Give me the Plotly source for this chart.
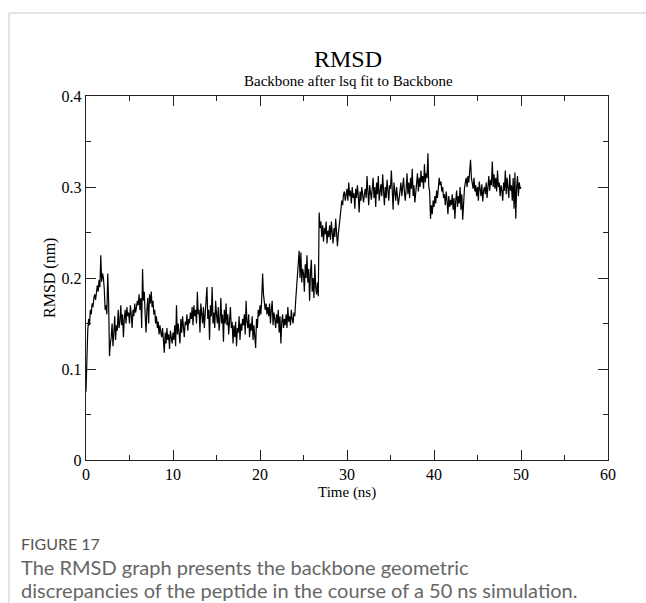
import plotly.graph_objects as go

# ---- data (RMSD in nm, one row per ns, 0.1 ns steps) ----
rmsd_rows = [
    [0.075, 0.120, 0.142, 0.155, 0.148, 0.165, 0.160, 0.172, 0.168, 0.178],  # 0-1
    [0.182, 0.176, 0.188, 0.192, 0.185, 0.198, 0.190, 0.225, 0.196, 0.205],  # 1-2
    [0.200, 0.188, 0.165, 0.170, 0.160, 0.205, 0.175, 0.114, 0.128, 0.135],  # 2-3
    [0.150, 0.125, 0.140, 0.158, 0.132, 0.148, 0.142, 0.165, 0.145, 0.152],  # 3-4
    [0.170, 0.148, 0.160, 0.135, 0.155, 0.165, 0.150, 0.168, 0.158, 0.162],  # 4-5
    [0.150, 0.170, 0.160, 0.145, 0.165, 0.158, 0.172, 0.162, 0.168, 0.175],  # 5-6
    [0.170, 0.182, 0.165, 0.178, 0.145, 0.210, 0.175, 0.185, 0.160, 0.140],  # 6-7
    [0.165, 0.178, 0.150, 0.182, 0.172, 0.185, 0.168, 0.175, 0.160, 0.165],  # 7-8
    [0.150, 0.158, 0.145, 0.152, 0.138, 0.148, 0.140, 0.135, 0.145, 0.130],  # 8-9
    [0.118, 0.140, 0.128, 0.145, 0.132, 0.138, 0.122, 0.142, 0.135, 0.128],  # 9-10
    [0.140, 0.132, 0.148, 0.125, 0.170, 0.138, 0.150, 0.142, 0.128, 0.155],  # 10-11
    [0.140, 0.158, 0.145, 0.135, 0.152, 0.148, 0.160, 0.142, 0.155, 0.150],  # 11-12
    [0.162, 0.155, 0.168, 0.148, 0.170, 0.158, 0.165, 0.150, 0.185, 0.160],  # 12-13
    [0.165, 0.140, 0.172, 0.158, 0.150, 0.168, 0.145, 0.160, 0.175, 0.190],  # 13-14
    [0.155, 0.165, 0.132, 0.170, 0.158, 0.190, 0.150, 0.162, 0.145, 0.175],  # 14-15
    [0.160, 0.150, 0.168, 0.142, 0.155, 0.178, 0.150, 0.160, 0.130, 0.165],  # 15-16
    [0.150, 0.172, 0.148, 0.160, 0.138, 0.155, 0.168, 0.145, 0.152, 0.128],  # 16-17
    [0.148, 0.135, 0.152, 0.125, 0.145, 0.140, 0.158, 0.132, 0.150, 0.142],  # 17-18
    [0.155, 0.148, 0.160, 0.138, 0.175, 0.152, 0.145, 0.160, 0.135, 0.150],  # 18-19
    [0.142, 0.158, 0.132, 0.148, 0.138, 0.123, 0.155, 0.145, 0.165, 0.158],  # 19-20
    [0.170, 0.160, 0.178, 0.205, 0.182, 0.175, 0.165, 0.172, 0.160, 0.168],  # 20-21
    [0.158, 0.172, 0.150, 0.165, 0.175, 0.148, 0.162, 0.155, 0.145, 0.160],  # 21-22
    [0.150, 0.165, 0.140, 0.158, 0.128, 0.152, 0.160, 0.145, 0.155, 0.148],  # 22-23
    [0.160, 0.145, 0.168, 0.152, 0.158, 0.148, 0.165, 0.155, 0.150, 0.162],  # 23-24
    [0.158, 0.175, 0.190, 0.205, 0.215, 0.230, 0.200, 0.228, 0.195, 0.210],  # 24-25
    [0.205, 0.185, 0.215, 0.200, 0.225, 0.195, 0.210, 0.175, 0.205, 0.220],  # 25-26
    [0.185, 0.200, 0.178, 0.215, 0.190, 0.182, 0.195, 0.180, 0.272, 0.255],  # 26-27
    [0.262, 0.245, 0.258, 0.240, 0.255, 0.248, 0.262, 0.238, 0.252, 0.245],  # 27-28
    [0.258, 0.242, 0.262, 0.250, 0.238, 0.255, 0.245, 0.265, 0.240, 0.235],  # 28-29
    [0.248, 0.255, 0.262, 0.275, 0.285, 0.280, 0.292, 0.295, 0.285, 0.290],  # 29-30
    [0.298, 0.285, 0.305, 0.290, 0.296, 0.282, 0.300, 0.288, 0.293, 0.276],  # 30-31
    [0.298, 0.288, 0.302, 0.290, 0.272, 0.295, 0.285, 0.300, 0.290, 0.283],  # 31-32
    [0.292, 0.298, 0.288, 0.312, 0.295, 0.280, 0.302, 0.293, 0.286, 0.298],  # 32-33
    [0.310, 0.288, 0.300, 0.278, 0.305, 0.292, 0.312, 0.285, 0.298, 0.303],  # 33-34
    [0.290, 0.314, 0.296, 0.280, 0.300, 0.288, 0.308, 0.294, 0.285, 0.302],  # 34-35
    [0.298, 0.318, 0.290, 0.275, 0.305, 0.296, 0.285, 0.300, 0.292, 0.280],  # 35-36
    [0.288, 0.296, 0.305, 0.290, 0.300, 0.310, 0.294, 0.285, 0.298, 0.315],  # 36-37
    [0.292, 0.305, 0.288, 0.310, 0.298, 0.320, 0.290, 0.302, 0.283, 0.296],  # 37-38
    [0.305, 0.315, 0.295, 0.310, 0.300, 0.318, 0.305, 0.312, 0.298, 0.325],  # 38-39
    [0.305, 0.315, 0.310, 0.337, 0.300, 0.295, 0.265, 0.280, 0.270, 0.285],  # 39-40
    [0.278, 0.290, 0.282, 0.296, 0.288, 0.300, 0.310, 0.302, 0.306, 0.295],  # 40-41
    [0.300, 0.288, 0.292, 0.280, 0.295, 0.285, 0.270, 0.290, 0.278, 0.286],  # 41-42
    [0.280, 0.292, 0.275, 0.288, 0.265, 0.285, 0.296, 0.278, 0.290, 0.282],  # 42-43
    [0.300, 0.275, 0.292, 0.264, 0.290, 0.298, 0.305, 0.310, 0.300, 0.312],  # 43-44
    [0.305, 0.318, 0.330, 0.310, 0.305, 0.298, 0.310, 0.295, 0.302, 0.290],  # 44-45
    [0.300, 0.285, 0.306, 0.295, 0.290, 0.303, 0.284, 0.296, 0.300, 0.292],  # 45-46
    [0.305, 0.288, 0.300, 0.312, 0.296, 0.308, 0.302, 0.328, 0.300, 0.314],  # 46-47
    [0.298, 0.310, 0.295, 0.318, 0.300, 0.305, 0.290, 0.302, 0.296, 0.285],  # 47-48
    [0.305, 0.296, 0.318, 0.292, 0.310, 0.300, 0.288, 0.314, 0.296, 0.302],  # 48-49
    [0.285, 0.310, 0.276, 0.316, 0.265, 0.300, 0.312, 0.290, 0.305, 0.298],  # 49-50
    [0.300],                                                                 # 50
]
time_step_ns = 0.1

x_tick_vals = [0, 10, 20, 30, 40, 50, 60]
x_tick_text = ["0", "10", "20", "30", "40", "50", "60"]
y_tick_vals = [0, 0.1, 0.2, 0.3, 0.4]
y_tick_text = ["0", "0.1", "0.2", "0.3", "0.4"]

title_text = "RMSD"
subtitle_text = "Backbone after lsq fit to Backbone"
x_label = "Time (ns)"
y_label = "RMSD (nm)"
fig_label = "FIGURE 17"
caption_lines = [
    "The RMSD graph presents the backbone geometric",
    "discrepancies of the peptide in the course of a 50 ns simulation.",
]

rmsd = [v for row in rmsd_rows for v in row]
time = [round(i * time_step_ns, 2) for i in range(len(rmsd))]

# ---- layout geometry (pixels) ----
W, H = 646, 603
L, R, T, B = 86, 608, 96, 460


def px(xp):
    return (xp - L) / (R - L)


def py(yp):
    return (B - yp) / (B - T)


SERIF = "Liberation Serif, Times New Roman, serif"
SANS = "Lato, Open Sans, sans-serif"

fig = go.Figure()
fig.add_trace(go.Scatter(x=time, y=rmsd, mode="lines",
                         line=dict(color="black", width=1.2), showlegend=False,
                         hoverinfo="skip"))

axis_common = dict(showline=True, linecolor="#222222", linewidth=1.4, mirror="ticks",
                   ticks="inside", ticklen=10, tickwidth=1.2, tickcolor="#222222",
                   showgrid=False, zeroline=False,
                   tickfont=dict(family=SERIF, size=16, color="black"))

fig.update_xaxes(range=[0, 60], tickvals=x_tick_vals, ticktext=x_tick_text,
                 minor=dict(dtick=5, ticks="inside", ticklen=5, tickwidth=1.2,
                            tickcolor="#222222", showgrid=False),
                 **axis_common)
fig.update_yaxes(range=[0, 0.4], tickvals=y_tick_vals, ticktext=y_tick_text,
                 minor=dict(dtick=0.05, ticks="inside", ticklen=5, tickwidth=1.2,
                            tickcolor="#222222", showgrid=False),
                 **axis_common)

ann = []
ann.append(dict(text=title_text, x=px(348), y=py(59), xref="paper", yref="paper",
                showarrow=False, xanchor="center", yanchor="middle",
                font=dict(family=SERIF, size=24, color="black")))
ann.append(dict(text=subtitle_text, x=px(348), y=py(81), xref="paper", yref="paper",
                showarrow=False, xanchor="center", yanchor="middle",
                font=dict(family=SERIF, size=15, color="black")))
ann.append(dict(text=x_label, x=px(347), y=py(493), xref="paper", yref="paper",
                showarrow=False, xanchor="center", yanchor="middle",
                font=dict(family=SERIF, size=15, color="black")))
ann.append(dict(text=y_label, x=px(50), y=py(278), xref="paper", yref="paper",
                showarrow=False, xanchor="center", yanchor="middle", textangle=-90,
                font=dict(family=SERIF, size=16, color="black")))
ann.append(dict(text=fig_label, x=px(19), y=py(543), xref="paper", yref="paper",
                showarrow=False, xanchor="left", yanchor="middle",
                font=dict(family=SANS, size=16, color="#555555")))
for i, line in enumerate(caption_lines):
    ann.append(dict(text=line, x=px(19), y=py(567 + 23 * i), xref="paper", yref="paper",
                    showarrow=False, xanchor="left", yanchor="middle",
                    font=dict(family=SANS, size=20, color="#666666")))

shapes = [
    dict(type="line", xref="paper", yref="paper", x0=px(9), x1=px(646), y0=py(13), y1=py(13),
         line=dict(color="#c8c8c8", width=1)),
    dict(type="line", xref="paper", yref="paper", x0=px(9), x1=px(9), y0=py(13), y1=py(603),
         line=dict(color="#c8c8c8", width=1)),
]

fig.update_layout(width=W, height=H, margin=dict(l=L, r=W - R, t=T, b=H - B),
                  paper_bgcolor="white", plot_bgcolor="white",
                  annotations=ann, shapes=shapes)

fig.write_html("out.html")
